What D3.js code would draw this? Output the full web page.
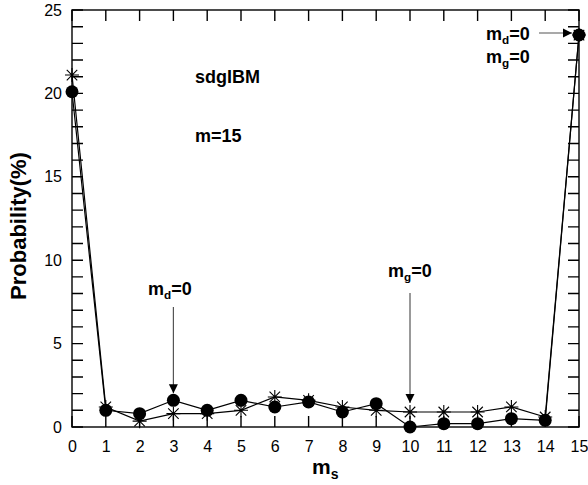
<!DOCTYPE html>
<html><head><meta charset="utf-8">
<script src="https://cdn.jsdelivr.net/npm/d3@7"></script>
<style>body{margin:0;background:#fff}svg{display:block;font-family:"Liberation Sans",Arial,Helvetica,sans-serif}</style>
</head><body><svg id="c" width="588" height="485"></svg>
<script>
const ms = [0,1,2,3,4,5,6,7,8,9,10,11,12,13,14,15];
const circleSeries = [20.1,1.0,0.8,1.6,1.0,1.6,1.2,1.5,0.9,1.4,0.0,0.2,0.2,0.5,0.4,23.5];
const starSeries = [21.1,1.2,0.35,0.8,0.8,1.0,1.8,1.6,1.2,1.0,0.9,0.9,0.9,1.2,0.6,23.5];
const xTicks = [0,1,2,3,4,5,6,7,8,9,10,11,12,13,14,15];
const yTicks = [0,5,10,15,20,25];
const yMinorTicks = d3.range(0,26);

const svg = d3.select("#c");
const L=72, R=579, T=10, B=427;
const x = d3.scaleLinear().domain([0,15]).range([L,R]);
const y = d3.scaleLinear().domain([0,25]).range([B,T]);

svg.append("defs").append("marker").attr("id","ah").attr("viewBox","0 0 10 10")
  .attr("refX",10).attr("refY",5).attr("markerWidth",9).attr("markerHeight",10)
  .attr("markerUnits","userSpaceOnUse").attr("orient","auto")
  .append("path").attr("d","M0,0L10,5L0,10Z").attr("fill","#000");

// frame
svg.append("rect").attr("x",L).attr("y",T).attr("width",R-L).attr("height",B-T)
  .attr("fill","none").attr("stroke","#000").attr("stroke-width",1.4);

// axis labels via d3 axes
const xb = svg.append("g").attr("transform",`translate(0,${B})`)
  .call(d3.axisBottom(x).tickValues(xTicks).tickSize(0).tickPadding(14));
const yl = svg.append("g").attr("transform",`translate(${L},0)`)
  .call(d3.axisLeft(y).tickValues(yTicks).tickSize(0).tickPadding(10));
[xb,yl].forEach(g=>{
  g.select(".domain").remove();
  g.selectAll("line").remove();
  g.selectAll("text").attr("font-size",16).attr("fill","#000")
   .attr("font-family","'Liberation Sans',Arial,sans-serif");
});

// inward tick marks built from scales
const tl = 11;
let tickD = "";
xTicks.forEach(d=>{ const px=x(d); tickD += `M${px},${B}V${B-tl}M${px},${T}V${T+tl}`; });
yMinorTicks.forEach(d=>{ const py=y(d); tickD += `M${L},${py}H${L+tl}M${R},${py}H${R-tl}`; });
svg.append("path").attr("d",tickD).attr("fill","none").attr("stroke","#000").attr("stroke-width",1.4);

// lines
const line = d3.line().x((d,i)=>x(ms[i])).y(d=>y(d));
svg.append("path").datum(starSeries).attr("d",line).attr("fill","none").attr("stroke","#000").attr("stroke-width",1.2);
svg.append("path").datum(circleSeries).attr("d",line).attr("fill","none").attr("stroke","#000").attr("stroke-width",1.2);

// star markers
const s=7;
svg.append("g").selectAll("path").data(starSeries).join("path")
  .attr("transform",(d,i)=>`translate(${x(ms[i])},${y(d)})`)
  .attr("d",`M${-s},0H${s}M0,${-s}V${s}M${-s*0.75},${-s*0.75}L${s*0.75},${s*0.75}M${-s*0.75},${s*0.75}L${s*0.75},${-s*0.75}`)
  .attr("stroke","#000").attr("stroke-width",1.1).attr("fill","none");
// circle markers
svg.append("g").selectAll("circle").data(circleSeries).join("circle")
  .attr("cx",(d,i)=>x(ms[i])).attr("cy",d=>y(d)).attr("r",6.5).attr("fill","#000");

const bold = (tx,ty,parts,size)=>{
  const t = svg.append("text").attr("x",tx).attr("y",ty).attr("font-weight","bold").attr("font-size",size).attr("fill","#000");
  let prevSub=false;
  parts.forEach(p=>{
    const ts = t.append("tspan").text(p[0]);
    if(p[1]){ ts.attr("font-size",size*0.65).attr("dy",4); prevSub=true; }
    else if(prevSub){ ts.attr("dy",-4); prevSub=false; }
  });
  return t;
};
bold(195,83,[["sdgIBM"]],18);
bold(195,142,[["m=15"]],18);
bold(148,295,[["m"],["d",1],["=0"]],18);
bold(388,277,[["m"],["g",1],["=0"]],18);
bold(486,40,[["m"],["d",1],["=0"]],18);
bold(486,63,[["m"],["g",1],["=0"]],18);

const arrow=(x1,y1,x2,y2)=>svg.append("line").attr("x1",x1).attr("y1",y1).attr("x2",x2).attr("y2",y2)
  .attr("stroke","#555").attr("stroke-width",1.2).attr("marker-end","url(#ah)");
arrow(x(3),307,x(3),y(circleSeries[3])-7);
arrow(x(10),293,x(10),y(starSeries[10])-9);
arrow(539,33,x(15)-7,33);

svg.append("text").attr("transform","translate(26,226) rotate(-90)").attr("text-anchor","middle")
  .attr("font-weight","bold").attr("font-size",22).text("Probability(%)");
const xl = svg.append("text").attr("x",312).attr("y",474).attr("font-weight","bold").attr("font-size",21);
xl.append("tspan").text("m");
xl.append("tspan").text("s").attr("font-size",14).attr("dy",5);
</script></body></html>
